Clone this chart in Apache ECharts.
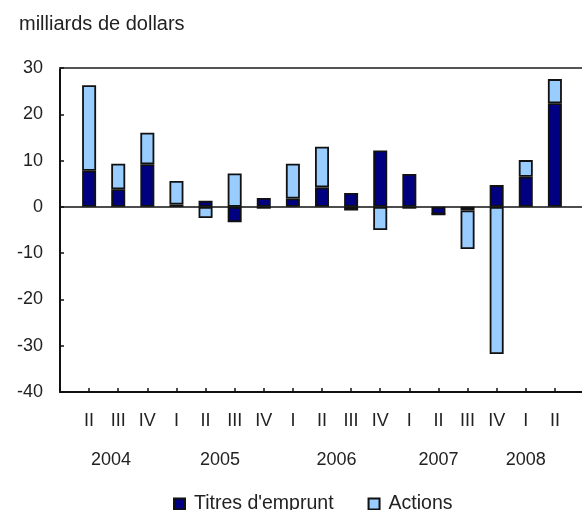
<!DOCTYPE html>
<html>
<head>
<meta charset="utf-8">
<script src="https://cdn.jsdelivr.net/npm/echarts@6/dist/echarts.min.js"></script>
<style>
  html, body { margin: 0; padding: 0; background: #fff; }
  #chart { width: 582px; height: 510px; }
</style>
</head>
<body>
<div id="chart"></div>
<script>
// trimestres 2004 II à 2008 II
const quarters = ['II', 'III', 'IV', 'I', 'II', 'III', 'IV', 'I', 'II', 'III', 'IV', 'I', 'II', 'III', 'IV', 'I', 'II']
const years = ['2004', '2005', '2006', '2007', '2008']
const titres = [7.8, 3.8, 9.2, 0.5, 1.3, -3.3, 1.9, 1.8, 4.2, 3.0, 12.2, 7.1, -1.6, -0.8, 4.7, 6.5, 22.4]
const actions = [18.5, 5.5, 6.8, 5.1, -2.4, 7.2, -0.4, 7.5, 8.8, -0.8, -5.0, -0.4, 0, -8.3, -31.8, 3.6, 5.2]
const yTicks = [-40, -30, -20, -10, 0, 10, 20, 30]

const font = 'Liberation Sans, Arial, sans-serif'
const textColor = '#222'

// une case vide de chaque côté, comme sur le graphique d'origine
const cats = ['', ...quarters, '']
const pad = (arr) => ['-', ...arr, '-']

// axe des années : 4 positions par trimestre
const yearSlot = [7, 22, 38, 52, 64]
const slots = []
for (let i = 0; i <= (cats.length - 1) * 4; i++) {
    const k = yearSlot.indexOf(i)
    slots.push(k >= 0 ? years[k] : '')
}

const chart = echarts.init(document.getElementById('chart'))
const option = {
    animation: false,
    backgroundColor: '#fff',
    title: {
        text: 'milliards de dollars',
        left: 14,
        top: 9,
        textStyle: { fontFamily: font, fontSize: 20, fontWeight: 'normal', color: textColor },
    },
    legend: {
        bottom: -9,
        left: 168,
        itemWidth: 11,
        itemHeight: 11,
        itemGap: 34,
        icon: 'rect',
        textStyle: { fontFamily: font, fontSize: 19.5, color: textColor, padding: [0, 0, 0, 4] },
        data: ['Titres d\'emprunt', 'Actions'],
    },
    grid: {
        left: 60,
        top: 68,
        right: -2,
        bottom: 118,
        containLabel: false,
        outerBoundsMode: 'none',
    },
    xAxis: [
        {
            type: 'category',
            data: cats,
            boundaryGap: false,
            position: 'bottom',
            axisLine: { onZero: false, lineStyle: { color: '#111', width: 2 } },
            axisTick: { inside: true, length: 4, interval: 0, lineStyle: { color: '#111', width: 1.5 } },
            axisLabel: { interval: 0, margin: 20, fontFamily: font, fontSize: 18, color: textColor },
            splitLine: { show: false },
        },
        {
            type: 'category',
            data: slots,
            boundaryGap: false,
            position: 'bottom',
            axisLine: { show: false },
            axisTick: { show: false },
            axisLabel: { interval: 0, margin: 59, fontFamily: font, fontSize: 18, color: textColor },
            splitLine: { show: false },
        },
        {
            type: 'category',
            data: cats,
            boundaryGap: false,
            position: 'top',
            axisLine: { onZero: false, lineStyle: { color: '#555', width: 2 } },
            axisTick: { show: false },
            axisLabel: { show: false },
            splitLine: { show: false },
        },
    ],
    yAxis: {
        type: 'value',
        min: yTicks[0],
        max: yTicks[yTicks.length - 1],
        interval: 10,
        axisLine: { show: true, lineStyle: { color: '#111', width: 2 } },
        axisTick: { show: true, inside: true, length: 4, lineStyle: { color: '#111', width: 1.5 } },
        axisLabel: { margin: 17, fontFamily: font, fontSize: 18, color: textColor },
        splitLine: { show: false },
    },
    series: [
        {
            name: 'Titres d\'emprunt',
            type: 'bar',
            stack: 'total',
            barWidth: 14,
            data: pad(titres),
            itemStyle: { color: '#000080', borderColor: '#111', borderWidth: 1.8 },
            markLine: {
                silent: true,
                symbol: 'none',
                label: { show: false },
                lineStyle: { color: '#111', width: 1.5, type: 'solid' },
                data: [{ yAxis: 0 }],
                z: 1,
            },
        },
        {
            name: 'Actions',
            type: 'bar',
            stack: 'total',
            barWidth: 14,
            data: pad(actions),
            itemStyle: { color: '#99ccff', borderColor: '#111', borderWidth: 1.8 },
        },
    ],
}
chart.setOption(option)
</script>
</body>
</html>
